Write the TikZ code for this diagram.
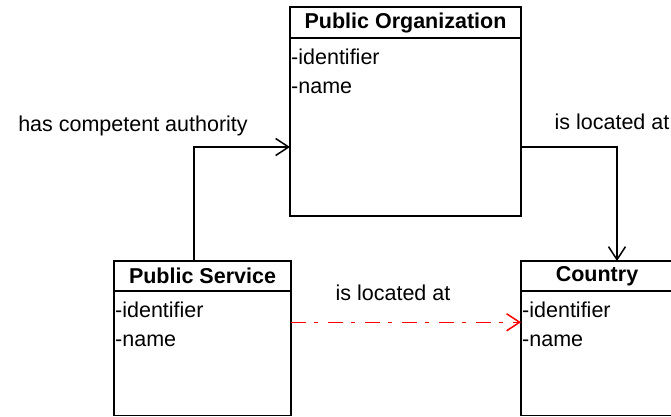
\documentclass[tikz,border=0pt]{standalone}
\usepackage{fontspec}
\setmainfont{Liberation Sans}
\usetikzlibrary{arrows.meta,positioning}
\newcommand{\umlfont}{\fontsize{21.5}{25}\selectfont}

\tikzset{
	classhead/.style={draw, line width=1.5pt, font=\umlfont\bfseries, anchor=north west, minimum height=30pt, inner sep=0pt, outer sep=0pt},
	classbody/.style={draw, line width=1.5pt, anchor=north west, inner sep=0pt, outer sep=0pt},
	attr/.style={font=\umlfont, anchor=west, inner sep=1pt},
	rolename/.style={font=\umlfont, inner sep=1pt},
	assoc/.style={line width=1.5pt, -{Straight Barb[length=13pt,width=17pt]}},
	locassoc/.style={assoc, color=red, dash pattern=on 15pt off 8pt on 4pt off 10pt},
}

\begin{document}
\begin{tikzpicture}[x=1pt, y=-1pt]
		%%%%% START %%%%%
		\useasboundingbox (0, 0) rectangle (671, 416);
		\clip (0, 0) rectangle (671, 416);
		
		% Public Organization
		\node[classhead, minimum width=231pt, minimum height=31pt] (pohead) at (290, 7) {Public Organization};
		\node[classbody, minimum width=231pt, minimum height=178pt] (pobody) at (pohead.south west) {};
		\node[attr] (poid) at ([yshift=-19pt]pobody.north west) {-identifier};
		\node[attr] (poname) at ([yshift=-50pt]pobody.north west) {-name};
		
		% Public Service
		\node[classhead, minimum width=177pt] (pshead) at (114, 261) {Public Service};
		\node[classbody, minimum width=177pt, minimum height=124.5pt] (psbody) at (pshead.south west) {};
		\node[attr] (psid) at ([yshift=-19pt]psbody.north west) {-identifier};
		\node[attr] (psname) at ([yshift=-50pt]psbody.north west) {-name};
		
		% Country
		\node[classhead, minimum width=152pt] (cthead) at (521, 261) {Country};
		\node[classbody, minimum width=152pt, minimum height=124.5pt] (ctbody) at (cthead.south west) {};
		\node[attr] (ctid) at ([yshift=-19pt]ctbody.north west) {-identifier};
		\node[attr] (ctname) at ([yshift=-50pt]ctbody.north west) {-name};
		
		% associations
		\coordinate (psup) at ([xshift=-8.5pt]pshead.north);
		\coordinate (poin) at ([yshift=-20pt]pobody.west);
		\draw[assoc] (psup) |- (poin);
		\node[rolename] (hascomp) at (133, 126) {has competent authority};
		
		\coordinate (poout) at ([yshift=-20pt]pobody.east);
		\coordinate (ctin) at ([xshift=20pt]cthead.north);
		\draw[assoc] (poout) -| (ctin);
		\node[rolename] (polocated) at (612, 122) {is located at};
		
		\coordinate (psout) at ([yshift=31pt]psbody.east);
		\coordinate (ctleft) at ([yshift=31pt]ctbody.west);
		\draw[locassoc] (psout) -- (ctleft);
		\node[rolename] (pslocated) at (393, 293) {is located at};
		%%%%% END %%%%%
	\end{tikzpicture}
\end{document}
